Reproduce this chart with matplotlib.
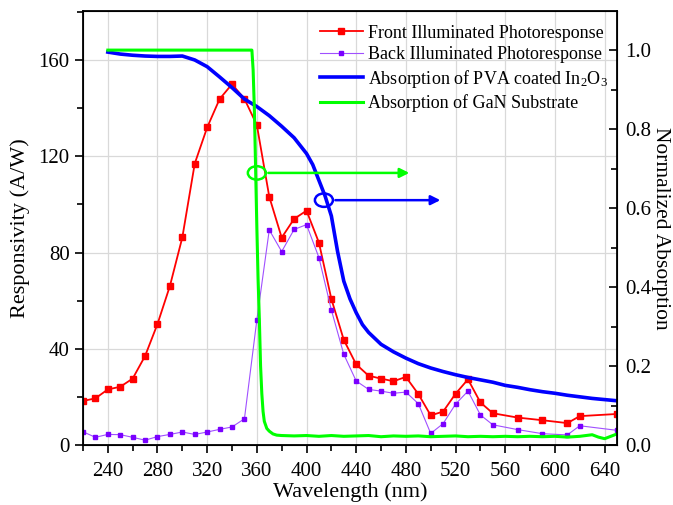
import numpy as np
import matplotlib
matplotlib.use('Agg')
import matplotlib.pyplot as plt
from matplotlib.patches import Ellipse
from matplotlib.ticker import MultipleLocator, FormatStrFormatter

plt.rcParams['font.family'] = 'Liberation Serif'
plt.rcParams['mathtext.fontset'] = 'custom'
plt.rcParams['mathtext.rm'] = 'Liberation Serif'
plt.rcParams['mathtext.it'] = 'Liberation Serif:italic'

# 광응답 데이터 (A/W)
front_wl = [220, 230, 240, 250, 260, 270, 280, 290, 300, 310, 320, 330, 340, 350,
            360, 370, 380, 390, 400, 410, 420, 430, 440, 450, 460, 470, 480, 490,
            500, 510, 520, 530, 540, 550, 570, 590, 610, 620, 650]
front_resp = [18.3, 19.4, 23.1, 24.2, 27.6, 37.0, 50.3, 66.1, 86.3, 117.0, 132.0, 143.8,
              150.0, 143.9, 133.0, 103.2, 86.2, 94.0, 97.4, 84.1, 60.7, 43.7, 33.5,
              28.8, 27.6, 26.5, 28.3, 21.2, 12.3, 13.9, 21.3, 27.3, 17.7, 13.2, 11.4,
              10.3, 9.1, 12.0, 12.9]
back_resp = [5.5, 3.2, 4.4, 4.3, 3.2, 2.0, 3.5, 4.4, 5.4, 4.4, 5.4, 6.5, 7.5, 10.9,
             52.0, 89.4, 80.4, 89.6, 91.6, 77.9, 56.1, 37.7, 26.6, 23.1, 22.4, 21.5,
             22.0, 17.2, 4.8, 8.9, 17.0, 22.4, 12.5, 8.4, 6.4, 4.7, 4.2, 8.0, 6.1]

# 흡수 스펙트럼 (정규화)
pva_wl = [240, 250, 260, 270, 280, 290, 300, 310, 320, 330, 340, 350, 360, 370, 380,
          390, 400, 405, 410, 415, 420, 425, 430, 435, 440, 445, 450, 460, 470, 480,
          490, 500, 510, 520, 530, 540, 550, 560, 570, 580, 590, 600, 610, 620, 630,
          640, 650]
pva_abs = [0.995, 0.99, 0.987, 0.985, 0.984, 0.984, 0.985, 0.975, 0.958, 0.932, 0.905,
           0.876, 0.857, 0.834, 0.807, 0.778, 0.738, 0.71, 0.67, 0.63, 0.58, 0.49, 0.415,
           0.37, 0.335, 0.305, 0.285, 0.255, 0.236, 0.22, 0.206, 0.195, 0.186, 0.178,
           0.171, 0.165, 0.159, 0.151, 0.146, 0.14, 0.135, 0.131, 0.126, 0.122, 0.118,
           0.115, 0.112]
gan_wl = [240, 356, 357, 358, 359, 360, 361, 362, 363, 364, 365, 366, 368, 370, 373,
          376, 380, 390, 400, 410, 420, 430, 440, 450, 460, 470, 480, 490, 500, 510,
          520, 530, 540, 550, 560, 570, 580, 590, 600, 610, 620, 630, 635, 640, 645, 650]
gan_abs = [1.0, 1.0, 0.95, 0.85, 0.7, 0.55, 0.42, 0.32, 0.2, 0.13, 0.085, 0.06, 0.042,
           0.035, 0.028, 0.025, 0.024, 0.023, 0.024, 0.022, 0.024, 0.022, 0.023, 0.024,
           0.021, 0.023, 0.022, 0.023, 0.021, 0.022, 0.023, 0.021, 0.022, 0.021, 0.022,
           0.021, 0.022, 0.021, 0.022, 0.02, 0.022, 0.026, 0.02, 0.016, 0.022, 0.028]

fig = plt.figure(figsize=(6.73, 5.05), dpi=100)
ax = fig.add_axes([0.1233, 0.1188, 0.7935, 0.8594])
ax2 = ax.twinx()

l1, = ax.plot(front_wl, front_resp, '-s', color='#ff0000', lw=1.3, ms=4.5,
              label='Front Illuminated Photoresponse')
l2, = ax.plot(front_wl, back_resp, '-s', color='#a050ff', mfc='#7a00ff', mec='#7a00ff',
              lw=0.8, ms=3.5, label='Back Illuminated Photoresponse')
l3, = ax2.plot(pva_wl, pva_abs, '-', color='#0000ff', lw=2.6,
               label='Absorption of PVA coated In$_2$O$_3$')
l4, = ax2.plot(gan_wl, gan_abs, '-', color='#00ff00', lw=2.2,
               label='Absorption of GaN Substrate')

ax.set_xlim(220, 650)
ax.set_ylim(0, 180.4)
ax2.set_ylim(0, 1.099)

ax.set_xticks(np.arange(240, 650, 40))
ax.xaxis.set_minor_locator(MultipleLocator(20))
ax.yaxis.set_major_locator(MultipleLocator(40))
ax.yaxis.set_minor_locator(MultipleLocator(20))
ax2.yaxis.set_major_locator(MultipleLocator(0.2))
ax2.yaxis.set_minor_locator(MultipleLocator(0.1))
ax2.yaxis.set_major_formatter(FormatStrFormatter('%.1f'))

ax.grid(True, color='#d9d9d9', lw=0.9)
ax.set_axisbelow(True)
ax.tick_params(axis='both', which='both', direction='out', labelsize=15, width=1.2)
ax.tick_params(which='major', length=6)
ax.tick_params(which='minor', length=4)
ax.tick_params(axis='x', which='both', top=False, pad=6)
ax2.tick_params(axis='y', which='both', direction='in', labelsize=15, width=1.2, pad=6)
ax2.tick_params(axis='y', which='major', length=6)
ax2.tick_params(axis='y', which='minor', length=4)
for sp in ax2.spines.values():
    sp.set_linewidth(1.3)

ax.set_xlabel('Wavelength (nm)', fontsize=16, labelpad=1)
ax.set_ylabel('Responsivity (A/W)', fontsize=16, labelpad=6)
ax2.set_ylabel('Normalized Absorption', fontsize=15.5, rotation=270, labelpad=13)

# 화살표 표시
ax2.add_patch(Ellipse((360, 0.689), 14.5, 0.034, fill=False, ec='#00ff00', lw=1.8))
ax2.annotate('', xy=(485, 0.689), xytext=(367, 0.689),
             arrowprops=dict(arrowstyle='-|>', color='#00ff00', lw=1.8, mutation_scale=14))
ax2.add_patch(Ellipse((414, 0.62), 14.5, 0.034, fill=False, ec='#0000ff', lw=1.8))
ax2.annotate('', xy=(510, 0.62), xytext=(421, 0.62),
             arrowprops=dict(arrowstyle='-|>', color='#0000ff', lw=1.8, mutation_scale=14))

ax2.legend([l1, l2, l3, l4], [l.get_label() for l in [l1, l2, l3, l4]],
           loc='upper right', bbox_to_anchor=(1.006, 0.998), frameon=False,
           fontsize=13, handlelength=2.4, handletextpad=0.25, labelspacing=0.25,
           borderaxespad=0.3)

plt.savefig('out.png', dpi=100)
